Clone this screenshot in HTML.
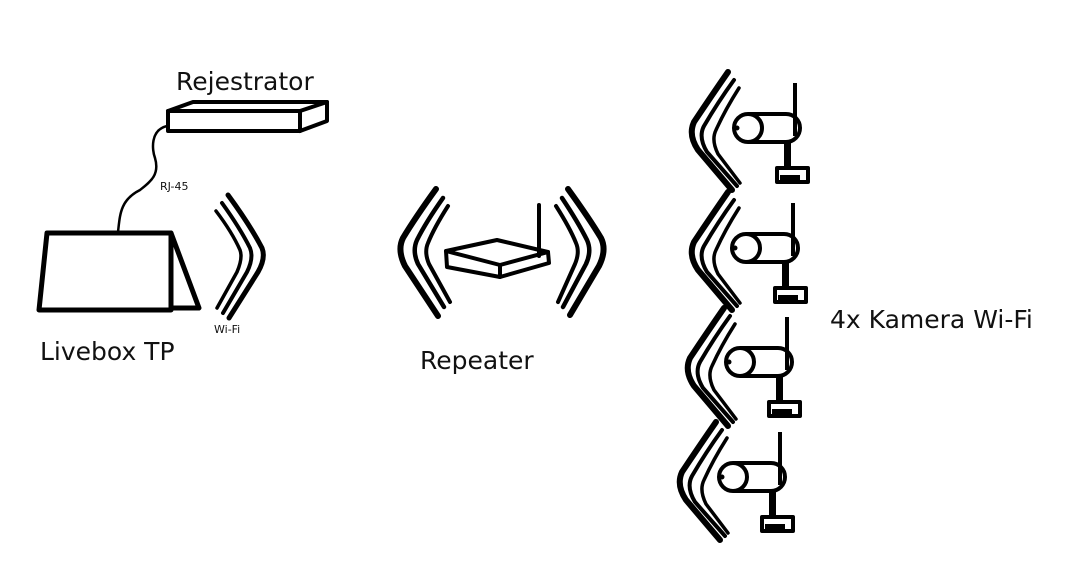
<!DOCTYPE html>
<html><head><style>
html,body{margin:0;padding:0;background:#fff;}
svg{display:block;}
text{font-family:"DejaVu Sans","Liberation Sans",sans-serif;fill:#111;}
</style></head><body>
<svg width="1087" height="564" viewBox="0 0 1087 564" xmlns="http://www.w3.org/2000/svg">
<defs>
<g id="cw" fill="none" stroke="#000" stroke-linecap="round">
<path d="M728,72 Q712,95 694,122 Q688,135 698,150 L732,190" stroke-width="6"/>
<path d="M734,80 Q718,102 704,126 Q698,137 707,152 L737,186" stroke-width="4"/>
<path d="M739,88 Q725,110 716,130 Q711,140 718,154 L740,183" stroke-width="3.5"/>
</g>
<g id="cam">
<g fill="none" stroke="#000" stroke-width="4" stroke-linejoin="round">
<path d="M748,114 H786 A14,14 0 0 1 786,142 H748"/>
<circle cx="748" cy="128" r="14"/>
<line x1="795" y1="83" x2="795" y2="136"/>
<rect x="777" y="168" width="31" height="14"/>
</g>
<rect x="784" y="142" width="7" height="28"/><circle cx="737" cy="128" r="2.5"/><rect x="780" y="175" width="20" height="5"/>
</g>
</defs>
<g fill="none" stroke="#000" stroke-linejoin="round" stroke-linecap="round">
<!-- Rejestrator -->
<rect x="168" y="111" width="132" height="20" stroke-width="4"/>
<polyline points="168,111 193,102 327,102 300,111" stroke-width="4"/>
<polyline points="327,102 327,121 300,131" stroke-width="4"/>
<!-- cable -->
<path d="M167,126 C150,130 152,150 155,158 C160,175 150,182 140,190 C120,200 120,215 118,232" stroke-width="2.5"/>
<!-- Livebox -->
<polygon points="47,233 171,233 171,310 39,310" stroke-width="5"/>
<polyline points="171,233 199,308 171,308" stroke-width="5"/>
<!-- livebox waves -->
<path d="M228,195 Q250,225 262,248 Q266,258 258,272 L229,318" stroke-width="5"/>
<path d="M222,203 Q240,228 250,248 Q254,258 247,272 L223,313" stroke-width="4"/>
<path d="M216,211 Q232,232 240,250 Q243,258 237,272 L217,308" stroke-width="3.5"/>
<!-- repeater router -->
<polygon points="446,251 497,240 548,252 500,265" stroke-width="4"/>
<polyline points="446,251 447,267 500,277 549,263 548,252" stroke-width="4"/>
<line x1="500" y1="265" x2="500" y2="277" stroke-width="4"/>
<line x1="539" y1="205" x2="539" y2="256" stroke-width="4"/>
<!-- repeater waves -->
<path d="M436,189 Q415,218 403,238 Q397,250 405,266 L438,316" stroke-width="6"/>
<path d="M443,198 Q426,222 417,240 Q412,251 418,264 L444,307" stroke-width="4.5"/>
<path d="M448,206 Q434,228 428,243 Q424,252 429,264 L450,302" stroke-width="4"/>
<path d="M568,189 Q589,218 601,238 Q607,250 599,266 L570,315" stroke-width="6"/>
<path d="M562,198 Q578,222 587,240 Q592,251 586,264 L563,307" stroke-width="4.5"/>
<path d="M556,206 Q570,228 576,243 Q580,252 575,264 L558,302" stroke-width="4"/>
</g>
<!-- camera waves -->
<use href="#cw"/>
<use href="#cw" transform="translate(0,120)"/>
<use href="#cw" transform="translate(-4,236)"/>
<use href="#cw" transform="translate(-12,350)"/>
<!-- cameras -->
<use href="#cam"/>
<use href="#cam" transform="translate(-2,120)"/>
<use href="#cam" transform="translate(-8,234)"/>
<use href="#cam" transform="translate(-15,349)"/>
<text x="176" y="90" font-size="25">Rejestrator</text>
<text x="40" y="360" font-size="25">Livebox TP</text>
<text x="420" y="369" font-size="25">Repeater</text>
<text x="830" y="328" font-size="25">4x Kamera Wi-Fi</text>
<text x="160" y="190" font-size="11">RJ-45</text>
<text x="214" y="333" font-size="11">Wi-Fi</text>
</svg>
</body></html>
